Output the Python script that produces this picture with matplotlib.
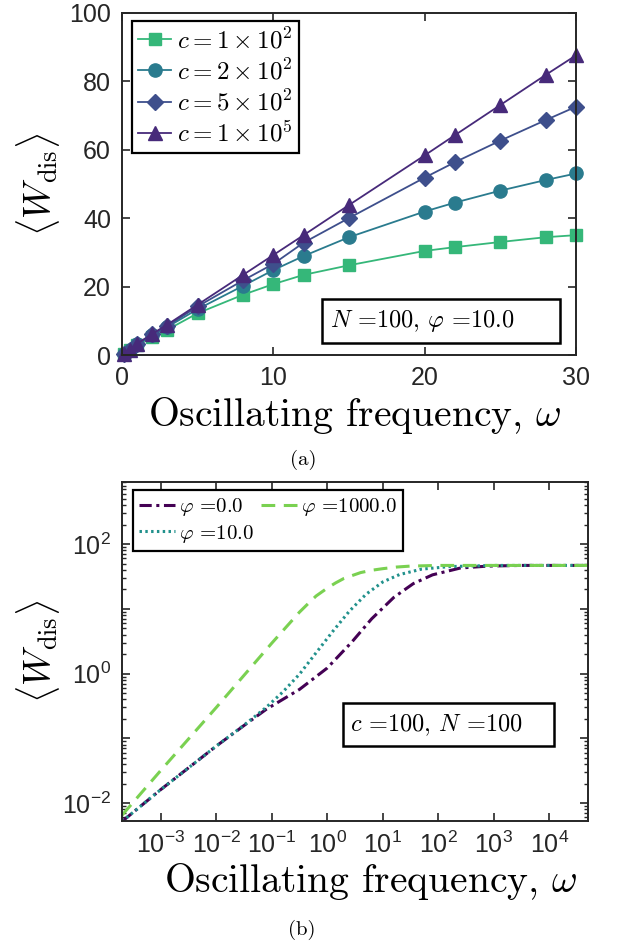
import matplotlib
matplotlib.use("Agg")
import matplotlib.pyplot as plt
from matplotlib.patches import Rectangle

plt.rcParams['font.family'] = ['Liberation Sans', 'DejaVu Sans']
plt.rcParams['mathtext.fontset'] = 'cm'
plt.rcParams['axes.unicode_minus'] = False

# panel (a): dissipated work vs frequency for several c
omega_a = [0.1, 0.5, 1, 2, 3, 5, 8, 10, 12, 15, 20, 22, 25, 28, 30]
w_c1e2 = [0.3, 1.5, 3.0, 5.4, 7.4, 12.2, 17.6, 20.7, 23.4, 26.2, 30.4, 31.5, 33.0, 34.4, 35.0]
w_c2e2 = [0.3, 1.6, 3.1, 5.8, 8.2, 13.4, 20.2, 24.8, 28.9, 34.4, 41.9, 44.5, 48.0, 51.1, 53.0]
w_c5e2 = [0.3, 1.6, 3.2, 6.0, 8.5, 14.2, 21.8, 26.6, 32.8, 40.0, 51.8, 56.3, 62.6, 68.6, 72.5]
w_c1e5 = [0.3, 1.6, 3.3, 6.2, 8.9, 14.7, 23.4, 29.2, 35.0, 43.8, 58.3, 64.2, 73.0, 81.8, 87.5]
labels_a = [r'$c = 1 \times 10^2$', r'$c = 2 \times 10^2$',
            r'$c = 5 \times 10^2$', r'$c = 1 \times 10^5$']

# panel (b): log-log curves for several phi
omega_phi0 = [2e-4, 1e-3, 1e-2, 3.16e-2, 7.9e-2, 0.316, 1, 2.8, 6.3, 15.8, 35.5, 79, 251, 794, 3162, 5e4]
w_phi0 = [5.2e-3, 1.62e-2, 7.6e-2, 0.158, 0.28, 0.57, 1.22, 3.1, 7.0, 15.0, 24.5, 33.5, 42.7, 45.7, 46.8, 46.8]
omega_phi10 = [2e-4, 1e-3, 1e-2, 3.16e-2, 7.9e-2, 0.158, 0.316, 0.63, 1.26, 2.5, 5.0, 10, 20, 50, 158, 1000, 5e4]
w_phi10 = [5.2e-3, 1.62e-2, 7.6e-2, 0.16, 0.30, 0.52, 0.98, 2.1, 4.5, 9.2, 16.8, 26.0, 33.8, 41.0, 44.9, 46.8, 46.8]
omega_phi1000 = [2e-4, 1e-3, 1e-2, 0.1, 0.316, 0.45, 0.63, 1, 1.41, 2, 4, 6.3, 10, 17.8, 31.6, 100, 5e4]
w_phi1000 = [6.5e-3, 3.2e-2, 0.30, 2.95, 8.9, 12.0, 15.8, 20.9, 25.1, 29.5, 36.3, 39.4, 41.7, 44.2, 45.7, 46.8, 46.8]

xticks_b = [1e-3, 1e-2, 1e-1, 1, 10, 100, 1e3, 1e4]
xticklabels_b = [r'$\mathdefault{10^{%d}}$' % e for e in range(-3, 5)]
yticks_b = [1e-2, 1e-1, 1, 10, 100]
yticklabels_b = [r'$\mathdefault{10^{-2}}$', '', r'$\mathdefault{10^{0}}$', '', r'$\mathdefault{10^{2}}$']

fig = plt.figure(figsize=(6.2, 9.48), dpi=100)
ax1 = fig.add_axes([0.1968, 0.6255, 0.7323, 0.3613])
ax2 = fig.add_axes([0.1968, 0.134, 0.7516, 0.3576])

# ---- panel (a)
series = [w_c1e2, w_c2e2, w_c5e2, w_c1e5]
colors_a = ['#35b779', '#2a7b8e', '#3e4f8c', '#472a7a']
markers = ['s', 'o', 'D', '^']
msizes = [8, 9.5, 8, 10]
for w, col, m, ms, lab in zip(series, colors_a, markers, msizes, labels_a):
    ax1.plot(omega_a, w, color=col, marker=m, ms=ms, lw=1.3, label=lab, clip_on=False)

ax1.set_xlim(0, 30)
ax1.set_ylim(0, 100)
ax1.set_xticks([0, 10, 20, 30])
ax1.set_yticks([0, 20, 40, 60, 80, 100])

leg = ax1.legend(loc='upper left', bbox_to_anchor=(0.022, 0.975), borderaxespad=0,
                 prop={'size': 18}, fancybox=False, edgecolor='black', framealpha=1,
                 handlelength=1.3, handletextpad=0.25, borderpad=0.25, labelspacing=0.22)
leg.get_frame().set_linewidth(1.6)

ax1.add_patch(Rectangle((0.4405, 0.035), 0.5243, 0.1285, transform=ax1.transAxes,
                        fc='white', ec='black', lw=1.8, zorder=5))
ax1.text(0.458, 0.099, r'$N$ =100, $\varphi$ =10.0', transform=ax1.transAxes,
         family='cmr10', fontsize=17.5, va='center', ha='left', zorder=6)

ax1.set_ylabel(r'$\langle W_{\rm dis}\rangle$', fontsize=27)
ax1.yaxis.set_label_coords(-0.132, 0.5)
ax1.set_xlabel(r'Oscillating frequency, $\omega$', family='cmr10', fontsize=28.5)
ax1.xaxis.set_label_coords(0.513, -0.118)

# ---- panel (b)
ax2.plot(omega_phi0, w_phi0, color='#440154', lw=2.2, ls=(0, (4, 1.5, 1, 1.5)), label=r'$\varphi$ =0.0')
ax2.plot(omega_phi10, w_phi10, color='#21918c', lw=2.2, ls=(0, (0.8, 1.1)), label=r'$\varphi$ =10.0')
ax2.plot(omega_phi1000, w_phi1000, color='#7ad151', lw=2.2, ls=(0, (4.5, 2.8)), label=r'$\varphi$ =1000.0')
ax2.set_xscale('log')
ax2.set_yscale('log')
ax2.set_xlim(2e-4, 5e4)
ax2.set_ylim(5.3e-3, 910)
ax2.set_xticks(xticks_b)
ax2.set_xticklabels(xticklabels_b)
ax2.set_yticks(yticks_b)
ax2.set_yticklabels(yticklabels_b)

leg2 = ax2.legend(loc='upper left', bbox_to_anchor=(0.0236, 0.976), borderaxespad=0, ncol=2,
                  prop={'family': 'cmr10', 'size': 15}, fancybox=False, edgecolor='black',
                  framealpha=1, handlelength=1.7, handletextpad=0.2, borderpad=0.3,
                  labelspacing=0.2, columnspacing=0.35)
leg2.get_frame().set_linewidth(1.6)

ax2.add_patch(Rectangle((0.474, 0.221), 0.453, 0.127, transform=ax2.transAxes,
                        fc='white', ec='black', lw=1.8, zorder=5))
ax2.text(0.489, 0.283, r'$c$ =100, $N$ =100', transform=ax2.transAxes,
         family='cmr10', fontsize=17.5, va='center', ha='left', zorder=6)

ax2.set_ylabel(r'$\langle W_{\rm dis}\rangle$', fontsize=27)
ax2.yaxis.set_label_coords(-0.129, 0.5)
ax2.set_xlabel(r'Oscillating frequency, $\omega$', family='cmr10', fontsize=28.5)
ax2.xaxis.set_label_coords(0.534, -0.118)

for ax in (ax1, ax2):
    ax.tick_params(which='major', direction='in', top=True, right=True, length=6, width=1.2,
                   labelsize=18, pad=8, colors='#262626')
    ax.tick_params(which='minor', direction='in', top=True, right=True, length=3, width=1.0,
                   colors='#262626')
    for s in ax.spines.values():
        s.set_linewidth(1.4)
        s.set_color('#262626')

fig.text(303 / 620, 1 - 460 / 948, '(a)', family='cmr10', fontsize=15, ha='center', va='center')
fig.text(302 / 620, 1 - 930 / 948, '(b)', family='cmr10', fontsize=15, ha='center', va='center')

fig.savefig('out.png', dpi=100)
